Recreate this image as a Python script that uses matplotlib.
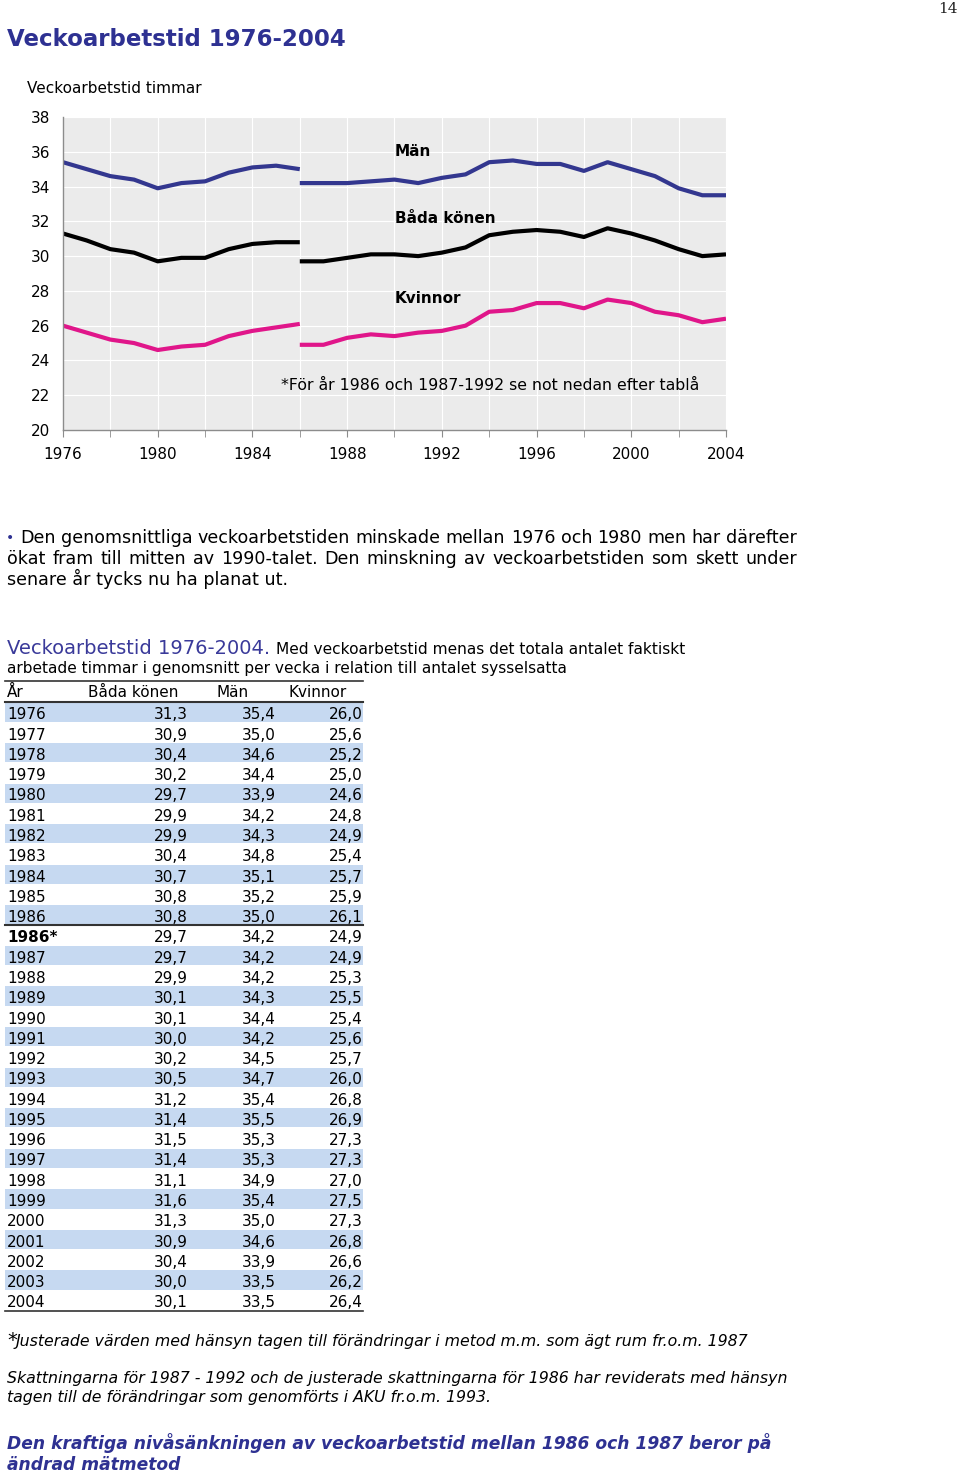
import numpy as np
import matplotlib
matplotlib.use("Agg")
import matplotlib.pyplot as plt
from matplotlib.ticker import MultipleLocator
from matplotlib.patches import Rectangle

# table / chart data
ar = ['1976', '1977', '1978', '1979', '1980', '1981', '1982', '1983', '1984', '1985',
      '1986', '1986*', '1987', '1988', '1989', '1990', '1991', '1992', '1993', '1994',
      '1995', '1996', '1997', '1998', '1999', '2000', '2001', '2002', '2003', '2004']
bada = [31.3, 30.9, 30.4, 30.2, 29.7, 29.9, 29.9, 30.4, 30.7, 30.8,
        30.8, 29.7, 29.7, 29.9, 30.1, 30.1, 30.0, 30.2, 30.5, 31.2,
        31.4, 31.5, 31.4, 31.1, 31.6, 31.3, 30.9, 30.4, 30.0, 30.1]
man = [35.4, 35.0, 34.6, 34.4, 33.9, 34.2, 34.3, 34.8, 35.1, 35.2,
       35.0, 34.2, 34.2, 34.2, 34.3, 34.4, 34.2, 34.5, 34.7, 35.4,
       35.5, 35.3, 35.3, 34.9, 35.4, 35.0, 34.6, 33.9, 33.5, 33.5]
kvinnor = [26.0, 25.6, 25.2, 25.0, 24.6, 24.8, 24.9, 25.4, 25.7, 25.9,
           26.1, 24.9, 24.9, 25.3, 25.5, 25.4, 25.6, 25.7, 26.0, 26.8,
           26.9, 27.3, 27.3, 27.0, 27.5, 27.3, 26.8, 26.6, 26.2, 26.4]
headers = ['År', 'Båda könen', 'Män', 'Kvinnor']
series_labels = ['Män', 'Båda könen', 'Kvinnor']

BLUE = '#2E3192'
LINE_BLUE = '#33378F'
MAGENTA = '#E0168A'
SHADE = '#C6D9F1'

W, H = 960, 1473
plt.rcParams['font.family'] = ['DejaVu Sans']
fig = plt.figure(figsize=(W / 100, H / 100), dpi=100)

# ---- chart ----
left, right, top, bottom = 63, 726, 117, 430
ax = fig.add_axes([left / W, 1 - bottom / H, (right - left) / W, (bottom - top) / H])
ax.set_facecolor('#EBEBEB')

x_all = [int(a.rstrip('*')) for a in ar]
cut = ar.index('1986*')
for vals, col in [(man, LINE_BLUE), (bada, 'black'), (kvinnor, MAGENTA)]:
    ax.plot(x_all[:cut], vals[:cut], color=col, lw=3, solid_capstyle='butt', solid_joinstyle='round')
    ax.plot(x_all[cut:], vals[cut:], color=col, lw=3, solid_capstyle='butt', solid_joinstyle='round')

ax.set_xlim(1976, 2004)
ax.set_ylim(20, 38)
ax.yaxis.set_major_locator(MultipleLocator(2))
ax.xaxis.set_major_locator(MultipleLocator(4))
ax.xaxis.set_minor_locator(MultipleLocator(2))
ax.grid(True, which='both', color='white', lw=0.8)
ax.set_axisbelow(True)
for s in ['top', 'right']:
    ax.spines[s].set_visible(False)
for s in ['left', 'bottom']:
    ax.spines[s].set_color('#8C8C8C')
    ax.spines[s].set_linewidth(1)
ax.tick_params(axis='y', length=0, pad=9, labelsize=11)
ax.tick_params(axis='x', which='both', length=5, color='#8C8C8C', direction='out', pad=7, labelsize=11)

# page layer in pixel coordinates (origin top-left), drawn above the chart
page = fig.add_axes([0, 0, 1, 1])
page.set_xlim(0, W)
page.set_ylim(H, 0)
page.axis('off')
page.patch.set_visible(False)
page.set_zorder(10)


def txt(x, y, s, size=11, **kw):
    return page.text(x, y, s, fontsize=size, va='baseline', **kw)


def justify(x0, x1, y, s, size):
    # spread words so the line runs from x0 to x1
    r = fig.canvas.get_renderer()
    words = s.split()
    arts = [txt(0, y, w, size=size) for w in words]
    widths = [a.get_window_extent(r).width for a in arts]
    gap = (x1 - x0 - sum(widths)) / (len(words) - 1)
    x = x0
    for a, w in zip(arts, widths):
        a.set_x(x)
        x += w + gap


txt(958, 13, '14', size=11, ha='right', family='DejaVu Serif', color='#222222')
txt(7, 46, 'Veckoarbetstid 1976-2004', size=16.5, weight='bold', color=BLUE)
txt(27, 93, 'Veckoarbetstid timmar', size=11)

lab_y = [156, 223, 303]
for lab, yb in zip(series_labels, lab_y):
    txt(395, yb, lab, size=11, weight='bold')
txt(281, 390, '*För år 1986 och 1987-1992 se not nedan efter tablå', size=11.35)

# ---- text ----
txt(6, 542, '•', size=10, color=BLUE)
justify(20, 797, 543, 'Den genomsnittliga veckoarbetstiden minskade mellan 1976 och 1980 men har därefter', 12.6)
justify(7, 797, 564, 'ökat fram till mitten av 1990-talet. Den minskning av veckoarbetstiden som skett under', 12.6)
txt(7, 585, 'senare år tycks nu ha planat ut.', size=12.6)

txt(7, 654, 'Veckoarbetstid 1976-2004.', size=14, color='#3A3A9A')
txt(276, 654, 'Med veckoarbetstid menas det totala antalet faktiskt', size=11.1)
txt(7, 673, 'arbetade timmar i genomsnitt per vecka i relation till antalet sysselsatta', size=11.1)

# ---- table ----
tx0, tx1 = 5, 363
row0, rh = 702, 20.28
page.plot([tx0, tx1], [681, 681], color='#333333', lw=1.2)
page.plot([tx0, tx1], [702, 702], color='#333333', lw=1.5)
hx = [7, 88, 217, 289]
for h, x in zip(headers, hx):
    txt(x, 697, h, size=11)

for i, yr in enumerate(ar):
    ytop = row0 + i * rh
    if i % 2 == 0:
        page.add_patch(Rectangle((tx0, ytop + 0.5), tx1 - tx0, rh - 1, color=SHADE, lw=0))
    yb = ytop + 17.3
    txt(7, yb, yr, size=11, weight='bold' if '*' in yr else 'normal')
    txt(188, yb, f'{bada[i]:.1f}'.replace('.', ','), size=11, ha='right')
    txt(276, yb, f'{man[i]:.1f}'.replace('.', ','), size=11, ha='right')
    txt(363, yb, f'{kvinnor[i]:.1f}'.replace('.', ','), size=11, ha='right')

page.plot([tx0, tx1], [row0 + cut * rh, row0 + cut * rh], color='#333333', lw=1.5)
page.plot([tx0, tx1], [row0 + len(ar) * rh + 0.5, row0 + len(ar) * rh + 0.5], color='#333333', lw=1.2)

# ---- notes ----
txt(7, 1346, '*', size=14)
txt(16, 1346, 'Justerade värden med hänsyn tagen till förändringar i metod m.m. som ägt rum fr.o.m. 1987',
    size=11.35, style='italic')
txt(7, 1383, 'Skattningarna för 1987 - 1992 och de justerade skattningarna för 1986 har reviderats med hänsyn',
    size=11.3, style='italic')
txt(7, 1402, 'tagen till de förändringar som genomförts i AKU fr.o.m. 1993.', size=11.3, style='italic')
txt(7, 1449, 'Den kraftiga nivåsänkningen av veckoarbetstid mellan 1986 och 1987 beror på',
    size=12.35, style='italic', weight='bold', color=BLUE)
txt(7, 1470, 'ändrad mätmetod', size=12.35, style='italic', weight='bold', color=BLUE)

fig.savefig('out.png', dpi=100)
